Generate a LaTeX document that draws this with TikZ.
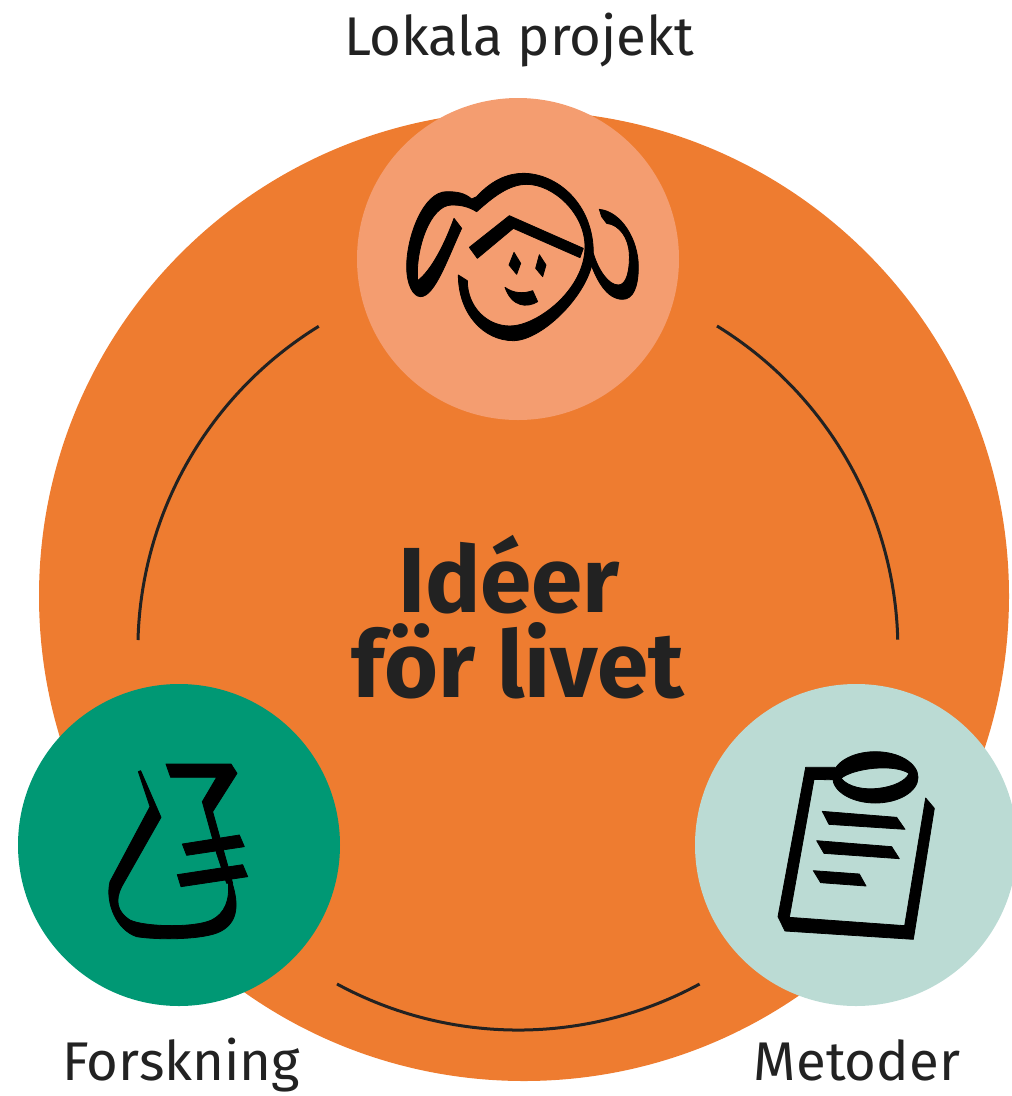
\documentclass[tikz,border=0pt]{standalone}
\usepackage{fontspec}
\setmainfont{Fira Sans}
\definecolor{bigorange}{HTML}{EE7C30}
\definecolor{peach}{HTML}{F49D70}
\definecolor{teal}{HTML}{009874}
\definecolor{mint}{HTML}{BBDBD4}
\definecolor{ink}{HTML}{222222}
\tikzset{
  bigdisc/.style={circle,fill=bigorange,minimum size=970pt,inner sep=0pt},
  smalldisc/.style={circle,minimum size=322pt,inner sep=0pt},
  ringarc/.style={draw=ink,line width=3pt},
  caption/.style={anchor=base,text=ink,font=\fontsize{54.5}{54.5}\selectfont,inner sep=0pt},
  headline/.style={anchor=base,text=ink,font=\fontsize{92.5}{92.5}\selectfont\bfseries,inner sep=0pt},
  glyph/.style={fill=black,draw=black,line width=.8pt,line join=round}
}
\begin{document}
\begin{tikzpicture}[x=1pt,y=-1pt]
\useasboundingbox (0,0) rectangle (1012,1096);
\node[bigdisc] (big) at (524,596) {};
\coordinate (al1) at (138,640); \coordinate (ar1) at (717,326); \coordinate (ab1) at (337,984);
\draw[ringarc] (al1) arc[start angle=178.5,end angle=121.6,radius=380pt];
\draw[ringarc] (ar1) arc[start angle=58.4,end angle=1.5,radius=380pt];
\draw[ringarc] (ab1) arc[start angle=241.5,end angle=298.5,radius=380pt];
\node[smalldisc,fill=peach] (top) at (518,259) {};
\node[smalldisc,fill=teal] (left) at (179,845) {};
\node[smalldisc,fill=mint] (right) at (856,845) {};
\node[caption] (lokala) at (519,55) {Lokala projekt};
\node[caption] (forsk) at (181,1080) {Forskning};
\node[caption] (metod) at (857,1080) {Metoder};
\node[headline] (idea1) at (509,612) {Idéer};
\node[headline] (idea2) at (518,697) {för livet};
% face
\begin{scope}[shift={(380,150)},scale=1/3]
\fill[glyph] (290,140) .. controls (340,85) and (390,70) .. (430,70)
 .. controls (530,70) and (640,160) .. (640,310)
 .. controls (640,420) and (490,572) .. (400,572)
 .. controls (310,572) and (235,490) .. (235,375)
 -- (262,392) .. controls (262,470) and (320,528) .. (390,528)
 .. controls (470,528) and (615,420) .. (615,290)
 .. controls (615,190) and (520,103) .. (440,103)
 .. controls (385,103) and (335,145) .. (290,185)
 .. controls (265,170) and (245,165) .. (215,165)
 .. controls (150,165) and (105,300) .. (113,392)
 .. controls (155,360) and (195,280) .. (222,205)
 -- (245,235) .. controls (205,320) and (165,440) .. (122,440)
 .. controls (100,440) and (80,405) .. (80,350)
 .. controls (80,260) and (130,125) .. (200,125)
 .. controls (235,125) and (255,130) .. (275,147) -- cycle;
\fill[glyph] (268,292) -- (388,197) -- (610,295) -- (600,323) -- (400,235) -- (292,325) -- cycle;
\fill[glyph] (402,307) -- (422,340) -- (410,373) -- (387,345) -- cycle;
\fill[glyph] (478,314) -- (498,345) -- (488,380) -- (467,355) -- cycle;
\fill[glyph] (375,412) .. controls (400,430) and (430,432) .. (458,422) -- (473,455) .. controls (440,475) and (395,470) .. (375,412) -- cycle;
\fill[glyph] (658,178) .. controls (725,185) and (775,270) .. (775,350)
 .. controls (775,410) and (760,448) .. (728,448)
 .. controls (680,448) and (650,390) .. (632,340) -- (640,310)
 .. controls (655,360) and (685,405) .. (715,405)
 .. controls (740,405) and (750,360) .. (748,310)
 .. controls (745,265) and (720,225) .. (680,220) -- (665,200) -- cycle;
\end{scope}
% flask
\begin{scope}[shift={(80,740)},scale=1/3]
\fill[glyph] (175,95) -- (182,92) -- (243,232) -- (125,440)
 .. controls (105,480) and (110,515) .. (150,540)
 .. controls (190,560) and (340,565) .. (395,540)
 .. controls (435,520) and (450,480) .. (445,425)
 -- (455,425) .. controls (480,500) and (470,550) .. (420,575)
 .. controls (370,600) and (230,600) .. (170,590)
 .. controls (110,570) and (75,490) .. (90,425) -- (210,200) -- cycle;
\fill[glyph] (258,72) -- (453,72) -- (471,100) -- (398,215) -- (458,430) -- (440,430) -- (410,340) -- (367,185) -- (410,112) -- (272,112) -- cycle;
\fill[glyph] (307,312) -- (478,285) -- (493,320) -- (320,346) -- cycle;
\fill[glyph] (292,404) -- (488,374) -- (503,410) -- (303,440) -- cycle;
\end{scope}
% clipboard
\begin{scope}[shift={(760,740)},scale=1/3]
\fill[glyph] (137,82) -- (225,82) -- (240,120) -- (162,118) -- (88,532) -- (434,557) -- (497,174) -- (523,205) -- (460,598) -- (75,573) -- (54,530) -- cycle;
\fill[glyph,even odd rule] (346,112) ellipse [x radius=128,y radius=77]
 (243,115) .. controls (280,85) and (400,70) .. (447,100) .. controls (430,145) and (290,170) .. (243,115) -- cycle;
\fill[glyph] (187,214) -- (410,232) -- (435,268) -- (207,253) -- cycle;
\fill[glyph] (170,302) -- (395,320) -- (418,356) -- (192,340) -- cycle;
\fill[glyph] (160,392) -- (298,402) -- (318,438) -- (182,428) -- cycle;
\end{scope}
\end{tikzpicture}
\end{document}
